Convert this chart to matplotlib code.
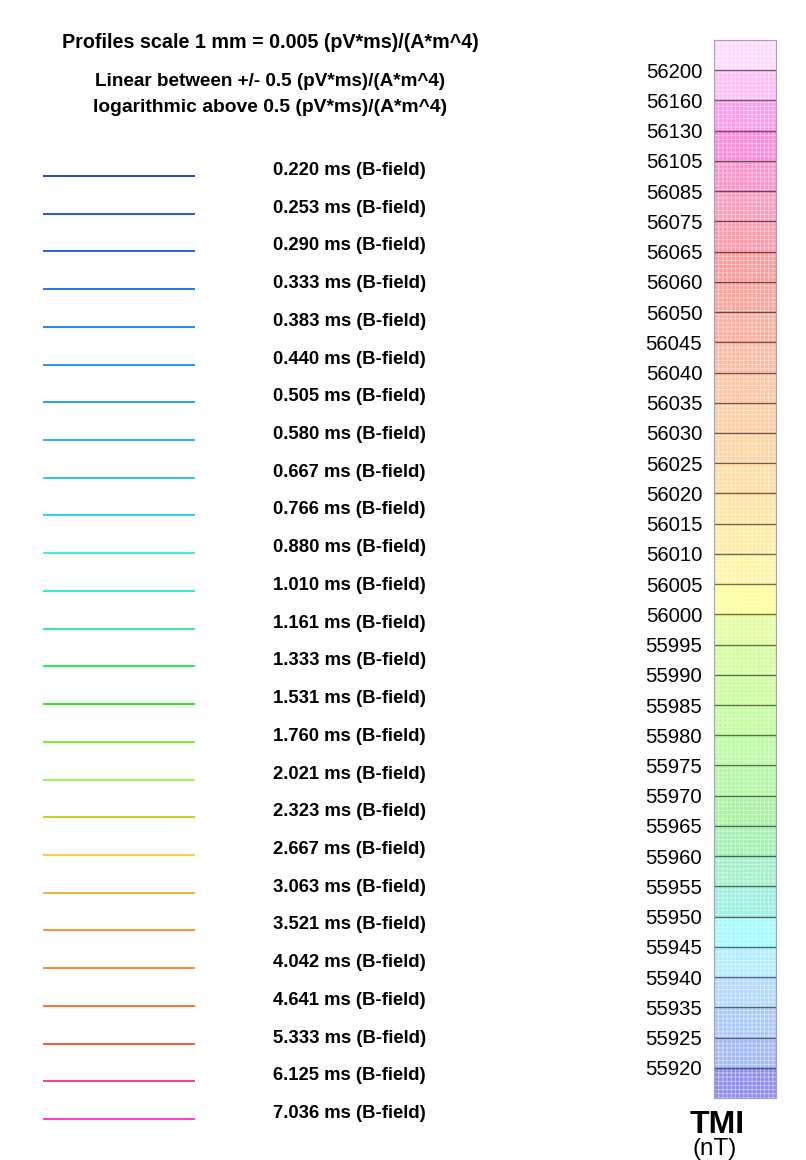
import matplotlib
matplotlib.use("Agg")
import matplotlib.pyplot as plt
import numpy as np
from matplotlib.colors import to_rgb

plt.rcParams["font.family"] = ["Liberation Sans", "DejaVu Sans"]
plt.rcParams["hatch.linewidth"] = 0.6

# -------------------------
# DATA
# -------------------------
header_lines = [
    "Profiles scale 1 mm = 0.005 (pV*ms)/(A*m^4)",
    "Linear between +/- 0.5 (pV*ms)/(A*m^4)",
    "logarithmic above 0.5 (pV*ms)/(A*m^4)",
]

time_gates_ms = [0.220, 0.253, 0.290, 0.333, 0.383, 0.440, 0.505, 0.580, 0.667,
                 0.766, 0.880, 1.010, 1.161, 1.333, 1.531, 1.760, 2.021, 2.323,
                 2.667, 3.063, 3.521, 4.042, 4.641, 5.333, 6.125, 7.036]

line_colors = ["#1034e0", "#1048e8", "#1058ec", "#106aee", "#107cf0", "#108cf0",
               "#0c9cf0", "#14acf0", "#20bcf0", "#20ccf0", "#28eeee", "#20ecc0",
               "#20ec88", "#10ec48", "#10ec10", "#68f418", "#98f42c", "#c0d010",
               "#f8c830", "#f8a82c", "#f88c24", "#f87c24", "#f86c1c", "#ff4c28",
               "#ff2898", "#ff28d0"]

tmi_levels = [55920, 55925, 55935, 55940, 55945, 55950, 55955, 55960, 55965,
              55970, 55975, 55980, 55985, 55990, 55995, 56000, 56005, 56010,
              56015, 56020, 56025, 56030, 56035, 56040, 56045, 56050, 56060,
              56065, 56075, 56085, 56105, 56130, 56160, 56200]

band_colors = ["#8c8cf0", "#a0b8f8", "#a8c8fc", "#b0d8ff", "#b0ecff", "#a0fcff",
               "#98f0e0", "#a0f0c8", "#a0f0b0", "#a8f0a0", "#b0f8a0", "#b8fca0",
               "#c0ff98", "#c8ff98", "#d0ff98", "#e0ff98", "#ffff98", "#fff4a0",
               "#ffeca0", "#ffe4a0", "#ffdca0", "#ffd4a0", "#ffcca0", "#ffc4a0",
               "#ffb8a0", "#ffac9c", "#ffa098", "#ff9898", "#ff98a8", "#ff98b8",
               "#ff90c8", "#ff88d8", "#ff98e8", "#ffbcf4", "#ffd8ff"]

# -------------------------
# FIGURE
# -------------------------
W, H = 806, 1160
fig = plt.figure(figsize=(W / 100, H / 100), dpi=100)
fig.patch.set_facecolor("white")

# full-figure axes in pixel units for the legend panel
ax = fig.add_axes([0, 0, 1, 1])
ax.set_xlim(0, W)
ax.set_ylim(H, 0)
ax.axis("off")

header_y = [42, 82, 108]
header_size = [14.2, 13.6, 13.9]
for txt, y, fs in zip(header_lines, header_y, header_size):
    ax.text(270, y, txt, ha="center", va="center", fontsize=fs, fontweight="bold")

first_y, step = 176, 37.72
ys = first_y + step * np.arange(len(time_gates_ms))
for y, t, c in zip(ys, time_gates_ms, line_colors):
    ax.hlines(y, 43, 195, color=c, lw=1.3)
    ax.text(273, y - 5.5, f"{t:.3f} ms (B-field)", ha="left", va="center",
            fontsize=13.3, fontweight="bold")

# -------------------------
# COLOR BAR
# -------------------------
cb_left, cb_top, cb_w, cb_h = 714, 40, 62, 1058
cax = fig.add_axes([cb_left / W, (H - cb_top - cb_h) / H, cb_w / W, cb_h / H])
n_bands = len(band_colors)
for i, c in enumerate(band_colors):
    cax.bar(0.5, 1, bottom=i, width=1, color=c, linewidth=0)
    cax.bar(0.5, 1, bottom=i, width=1, facecolor="none", edgecolor=(1, 1, 1, 0.55),
            hatch="++++", linewidth=0)
for k in range(1, n_bands):
    dark = tuple(0.45 * np.array(to_rgb(band_colors[k])))
    cax.axhline(k, color=dark, lw=1.0)
cax.set_xlim(0, 1)
cax.set_ylim(0, n_bands)
cax.set_xticks([])
cax.set_yticks(np.arange(1, n_bands))
cax.set_yticklabels([str(v) for v in tmi_levels], fontsize=14.6)
cax.tick_params(axis="y", length=0, pad=8.5)
for s in cax.spines.values():
    s.set_color("#a0a0c8")
    s.set_linewidth(0.8)

fig.text(717 / W, 1 - 1125 / H, "TMI", ha="center", va="center",
         fontsize=23, fontweight="bold")
fig.text(715 / W, 1 - 1149 / H, "(nT)", ha="center", va="center",
         fontsize=17.5)

fig.savefig("out.png", dpi=100)
